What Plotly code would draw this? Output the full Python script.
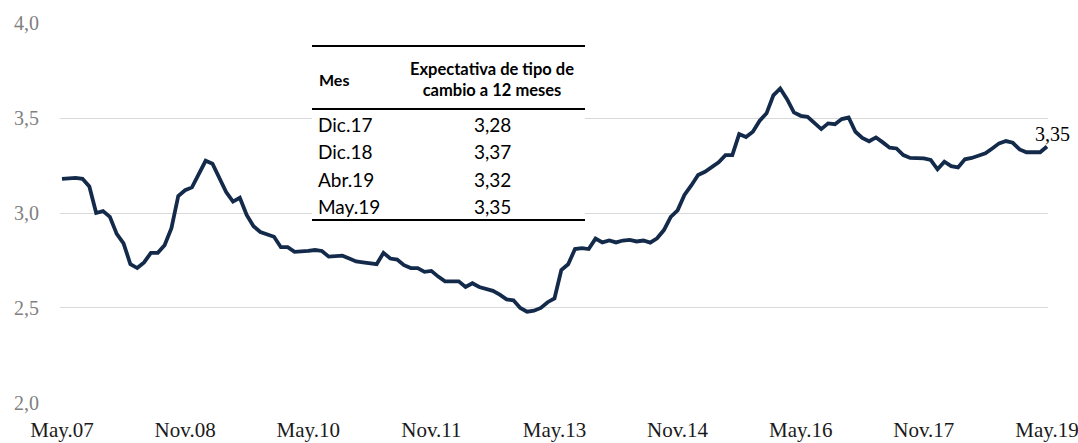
import plotly.graph_objects as go

# Monthly 12-month exchange-rate expectation, May.07 .. May.19
expectativa = [
    3.18, 3.185, 3.185, 3.18, 3.14, 3.00, 3.01, 2.98,            # May07-Dec07
    2.89, 2.84, 2.73, 2.71, 2.74, 2.79, 2.79, 2.83, 2.92, 3.09, 3.12, 3.135,  # 2008
    3.20, 3.275, 3.26, 3.18, 3.11, 3.06, 3.08, 2.99, 2.93, 2.90, 2.89, 2.875,  # 2009
    2.82, 2.82, 2.795, 2.795, 2.80, 2.805, 2.80, 2.77, 2.775, 2.775, 2.76, 2.745,  # 2010
    2.74, 2.735, 2.73, 2.79, 2.76, 2.755, 2.725, 2.71, 2.71, 2.69, 2.695, 2.665,  # 2011
    2.64, 2.64, 2.64, 2.61, 2.63, 2.61, 2.60, 2.59, 2.57, 2.545, 2.54, 2.50,  # 2012
    2.48, 2.485, 2.50, 2.53, 2.55, 2.70, 2.73, 2.81, 2.815, 2.81, 2.865, 2.845,  # 2013
    2.855, 2.845, 2.855, 2.858, 2.85, 2.855, 2.844, 2.867, 2.91, 2.98, 3.014, 3.095,  # 2014
    3.145, 3.20, 3.217, 3.244, 3.267, 3.305, 3.305, 3.416, 3.40, 3.428, 3.486, 3.525,  # 2015
    3.62, 3.656, 3.60, 3.53, 3.512, 3.507, 3.472, 3.442, 3.472, 3.468, 3.495, 3.503,  # 2016
    3.428, 3.395, 3.378, 3.398, 3.372, 3.344, 3.34, 3.305, 3.29, 3.29, 3.288, 3.28,  # 2017
    3.23, 3.27, 3.247, 3.24, 3.283, 3.29, 3.30, 3.314, 3.34, 3.367, 3.379, 3.37,  # 2018
    3.335, 3.32, 3.32, 3.32, 3.35,                                   # Jan19-May19
]
meses_idx = list(range(len(expectativa)))

tick_pos = [0, 18, 36, 54, 72, 90, 108, 126, 144]
tick_text = ["May.07", "Nov.08", "May.10", "Nov.11", "May.13", "Nov.14", "May.16", "Nov.17", "May.19"]

y_ticks = [2.0, 2.5, 3.0, 3.5, 4.0]

tabla_mes = ["Dic.17", "Dic.18", "Abr.19", "May.19"]
tabla_valor = ["3,28", "3,37", "3,32", "3,35"]
ultimo_label = "3,35"

W, H = 1078, 443
L, R, T, B = 60, 30, 23, 40
pw, ph = W - L - R, H - T - B


def px_x(px):
    return (px - L) / pw


def px_y(py):
    return (H - B - py) / ph


fig = go.Figure()
fig.add_trace(go.Scatter(
    x=meses_idx, y=expectativa, mode="lines",
    line=dict(color="#132a4a", width=3.8),
    hoverinfo="skip", showlegend=False,
))

shapes = []
# white table background
shapes.append(dict(type="rect", xref="paper", yref="paper",
                   x0=px_x(312), x1=px_x(585), y0=px_y(221), y1=px_y(45),
                   fillcolor="white", line=dict(width=0), layer="above"))
for py in (46, 109, 220):
    shapes.append(dict(type="line", xref="paper", yref="paper",
                       x0=px_x(312), x1=px_x(585), y0=px_y(py), y1=px_y(py),
                       line=dict(color="black", width=2), layer="above"))

ann = []
ann.append(dict(xref="paper", yref="paper", x=px_x(317), y=px_y(79), text="<b>Mes</b>",
                showarrow=False, xanchor="left", yanchor="middle",
                font=dict(family="Lato", size=16, color="black")))
ann.append(dict(xref="paper", yref="paper", x=px_x(492), y=px_y(79),
                text="<b>Expectativa de tipo de<br>cambio a 12 meses</b>",
                showarrow=False, xanchor="center", yanchor="middle", align="center",
                font=dict(family="Lato", size=16.5, color="black")))
row_y = [125, 152, 179, 207]
for m, v, ry in zip(tabla_mes, tabla_valor, row_y):
    ann.append(dict(xref="paper", yref="paper", x=px_x(316), y=px_y(ry), text=m,
                    showarrow=False, xanchor="left", yanchor="middle",
                    font=dict(family="Lato", size=19, color="black")))
    ann.append(dict(xref="paper", yref="paper", x=px_x(492), y=px_y(ry), text=v,
                    showarrow=False, xanchor="center", yanchor="middle",
                    font=dict(family="Lato", size=19, color="black")))
ann.append(dict(x=meses_idx[-1], y=expectativa[-1], text=ultimo_label,
                showarrow=False, xanchor="center", yanchor="bottom", xshift=6, yshift=0,
                font=dict(family="Liberation Serif", size=20, color="black")))

fig.update_layout(
    width=W, height=H,
    margin=dict(l=L, r=R, t=T, b=B, pad=0, autoexpand=False),
    paper_bgcolor="white", plot_bgcolor="white",
    separators=", ",
    shapes=shapes, annotations=ann,
    xaxis=dict(range=[-0.29, 144.15], tickmode="array", tickvals=tick_pos, ticktext=tick_text,
               showgrid=False, zeroline=False, showline=False, ticks="", automargin=False,
               ticklabelstandoff=12, ticklabeloverflow="allow",
               tickfont=dict(family="Liberation Serif", size=21, color="#1a1a1a")),
    yaxis=dict(range=[1.999, 4.001], tickmode="array", tickvals=y_ticks, tickformat=".1f",
               showgrid=True, gridcolor="#d9d9d9", gridwidth=1, zeroline=False, showline=False,
               ticks="", ticklabelstandoff=20, automargin=False,
               tickfont=dict(family="Liberation Serif", size=20, color="#808080")),
)

fig.write_html(
    "out.html",
    config={"displayModeBar": False},
    post_script="document.body.style.margin='0';document.body.style.overflow='hidden';",
)
